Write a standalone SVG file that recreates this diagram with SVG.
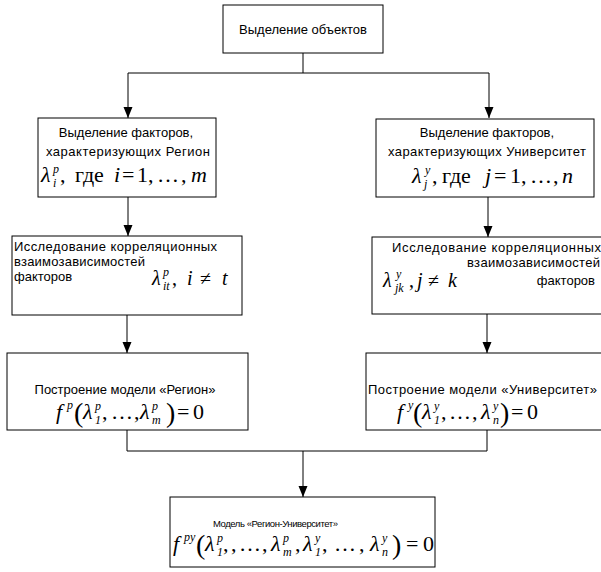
<svg xmlns="http://www.w3.org/2000/svg" width="601" height="572" viewBox="0 0 601 572">
  <style>
    .box { fill: #fff; stroke: #000; stroke-width: 1; }
    .t { font-family: "Liberation Sans", Arial, sans-serif; font-size: 13px; fill: #000; }
    .c { text-anchor: middle; }
    .m { font-family: "Liberation Serif", "Times New Roman", serif; font-style: italic; font-size: 22px; fill: #000; }
    .m20 { font-size: 20px; }
    .r { font-style: normal; }
    .s { font-size: 12px; }
    .p { font-style: normal; font-size: 28px; }
    .ln { stroke: #000; stroke-width: 1; fill: none; }
    .ah { fill: #000; }
  </style>

  <!-- connectors -->
  <g id="connectors">
    <line class="ln" x1="303" y1="53" x2="303" y2="73"/>
    <line class="ln" x1="128" y1="73" x2="489" y2="73"/>
    <path class="ln" d="M128,73 V118"/>
    <path class="ln" d="M489,73 V118"/>
    <path class="ln" d="M128,197 V236"/>
    <path class="ln" d="M488,197 V237"/>
    <path class="ln" d="M127,315 V353"/>
    <path class="ln" d="M487,314 V353"/>
    <path class="ln" d="M127,430 V451 H487 V430"/>
    <path class="ln" d="M303,451 V497"/>
    <!-- arrowheads -->
    <path class="ah" d="M123.5,107 L132.5,107 L128,118 Z"/>
    <path class="ah" d="M484.5,107 L493.5,107 L489,118 Z"/>
    <path class="ah" d="M123.5,225 L132.5,225 L128,236 Z"/>
    <path class="ah" d="M483.5,226 L492.5,226 L488,237 Z"/>
    <path class="ah" d="M122.5,342 L131.5,342 L127,353 Z"/>
    <path class="ah" d="M482.5,342 L491.5,342 L487,353 Z"/>
    <path class="ah" d="M298.5,486 L307.5,486 L303,497 Z"/>
  </g>

  <!-- top: object selection -->
  <g id="objects">
    <rect class="box" x="223" y="5" width="160" height="48"/>
    <text class="t c" x="303" y="34">Выделение объектов</text>
  </g>

  <!-- region factors -->
  <g id="region-factors">
    <rect class="box" x="38" y="118" width="178" height="79"/>
    <text class="t c" x="126" y="137">Выделение факторов,</text>
    <text class="t" x="46" y="156" textLength="164">характеризующих  Регион</text>
    <text class="m" y="182"><tspan x="41">λ</tspan><tspan class="s" x="53" y="173">p</tspan><tspan class="s" x="53" y="187">i</tspan><tspan class="r" x="60" y="182">,</tspan><tspan class="r" x="75">где</tspan><tspan x="114">i</tspan><tspan class="r" x="122">=</tspan><tspan class="r" x="137">1</tspan><tspan class="r" x="148">,</tspan><tspan class="r" x="157">…</tspan><tspan class="r" x="181">,</tspan><tspan x="191">m</tspan></text>
  </g>

  <!-- university factors -->
  <g id="university-factors">
    <rect class="box" x="376" y="119" width="218" height="78"/>
    <text class="t c" x="487" y="137">Выделение факторов,</text>
    <text class="t" x="388" y="156" textLength="198">характеризующих Университет</text>
    <text class="m" y="183"><tspan x="412">λ</tspan><tspan class="s" x="425" y="174">y</tspan><tspan class="s" x="424" y="188">j</tspan><tspan class="r" x="432" y="183">,</tspan><tspan class="r" x="442">где</tspan><tspan x="485">j</tspan><tspan class="r" x="494">=</tspan><tspan class="r" x="510">1</tspan><tspan class="r" x="521">,</tspan><tspan class="r" x="530">…</tspan><tspan class="r" x="553">,</tspan><tspan x="562">n</tspan></text>
  </g>

  <!-- region correlations -->
  <g id="region-correlations">
    <rect class="box" x="12" y="236" width="230" height="79"/>
    <text class="t" x="14" y="251" textLength="203">Исследование корреляционных</text>
    <text class="t" x="14" y="266" textLength="131">взаимозависимостей</text>
    <text class="t" x="14" y="281">факторов</text>
    <text class="m m20" y="285"><tspan x="152">λ</tspan><tspan class="s" x="163" y="276">p</tspan><tspan class="s" x="163" y="290">it</tspan><tspan class="r" x="172" y="285">,</tspan><tspan x="187">i</tspan><tspan class="r" x="200">≠</tspan><tspan x="222">t</tspan></text>
  </g>

  <!-- university correlations -->
  <g id="university-correlations">
    <rect class="box" x="372" y="237" width="240" height="77"/>
    <text class="t" x="392" y="252" textLength="209">Исследование корреляционных</text>
    <text class="t" x="467" y="267" textLength="133">взаимозависимостей</text>
    <text class="t" x="595" y="285" text-anchor="end">факторов</text>
    <text class="m m20" y="287"><tspan x="383">λ</tspan><tspan class="s" x="396" y="278">y</tspan><tspan class="s" x="395" y="292">jk</tspan><tspan class="r" x="409" y="287">,</tspan><tspan x="417">j</tspan><tspan class="r" x="428">≠</tspan><tspan x="448">k</tspan></text>
  </g>

  <!-- region model -->
  <g id="region-model">
    <rect class="box" x="7" y="353" width="241" height="77"/>
    <text class="t c" x="125" y="394">Построение модели «Регион»</text>
    <text class="m" y="419"><tspan x="56">f</tspan><tspan class="s" x="67" y="409">p</tspan><tspan class="p" x="74" y="422">(</tspan><tspan x="83" y="419">λ</tspan><tspan class="s" x="95" y="410">p</tspan><tspan class="s" x="95" y="424">1</tspan><tspan class="r" x="102" y="419">,</tspan><tspan class="r" x="111">…</tspan><tspan class="r" x="134">,</tspan><tspan x="140">λ</tspan><tspan class="s" x="152" y="410">p</tspan><tspan class="s" x="152" y="424">m</tspan><tspan class="p" x="166" y="422">)</tspan><tspan class="r" x="177" y="419">=</tspan><tspan class="r" x="193">0</tspan></text>
  </g>

  <!-- university model -->
  <g id="university-model">
    <rect class="box" x="366" y="353" width="240" height="77"/>
    <text class="t" x="368" y="394" textLength="229">Построение модели «Университет»</text>
    <text class="m" y="419"><tspan x="397">f</tspan><tspan class="s" x="408" y="409">y</tspan><tspan class="p" x="413" y="422">(</tspan><tspan x="422" y="419">λ</tspan><tspan class="s" x="434" y="410">y</tspan><tspan class="s" x="434" y="424">1</tspan><tspan class="r" x="441" y="419">,</tspan><tspan class="r" x="449">…</tspan><tspan class="r" x="472">,</tspan><tspan x="481">λ</tspan><tspan class="s" x="493" y="410">y</tspan><tspan class="s" x="493" y="424">n</tspan><tspan class="p" x="500" y="422">)</tspan><tspan class="r" x="511" y="419">=</tspan><tspan class="r" x="527">0</tspan></text>
  </g>

  <!-- joint model -->
  <g id="joint-model">
    <rect class="box" x="170" y="497" width="265" height="70"/>
    <text class="t" x="213" y="527" style="font-size:9.5px" textLength="125">Модель «Регион-Университет»</text>
    <text class="m" y="551"><tspan x="173">f</tspan><tspan class="s" x="184" y="541">py</tspan><tspan class="p" x="196" y="554">(</tspan><tspan x="205" y="551">λ</tspan><tspan class="s" x="217" y="542">p</tspan><tspan class="s" x="217" y="556">1</tspan><tspan class="r" x="223" y="551">,</tspan><tspan class="r" x="231">,</tspan><tspan class="r" x="239">…</tspan><tspan class="r" x="262">,</tspan><tspan x="271">λ</tspan><tspan class="s" x="283" y="542">p</tspan><tspan class="s" x="283" y="556">m</tspan><tspan class="r" x="295" y="551">,</tspan><tspan x="303">λ</tspan><tspan class="s" x="315" y="542">y</tspan><tspan class="s" x="315" y="556">1</tspan><tspan class="r" x="322" y="551">,</tspan><tspan class="r" x="334">…</tspan><tspan class="r" x="359">,</tspan><tspan x="370">λ</tspan><tspan class="s" x="382" y="542">y</tspan><tspan class="s" x="382" y="556">n</tspan><tspan class="p" x="392" y="554">)</tspan><tspan class="r" x="406" y="551">=</tspan><tspan class="r" x="423">0</tspan></text>
  </g>
</svg>
